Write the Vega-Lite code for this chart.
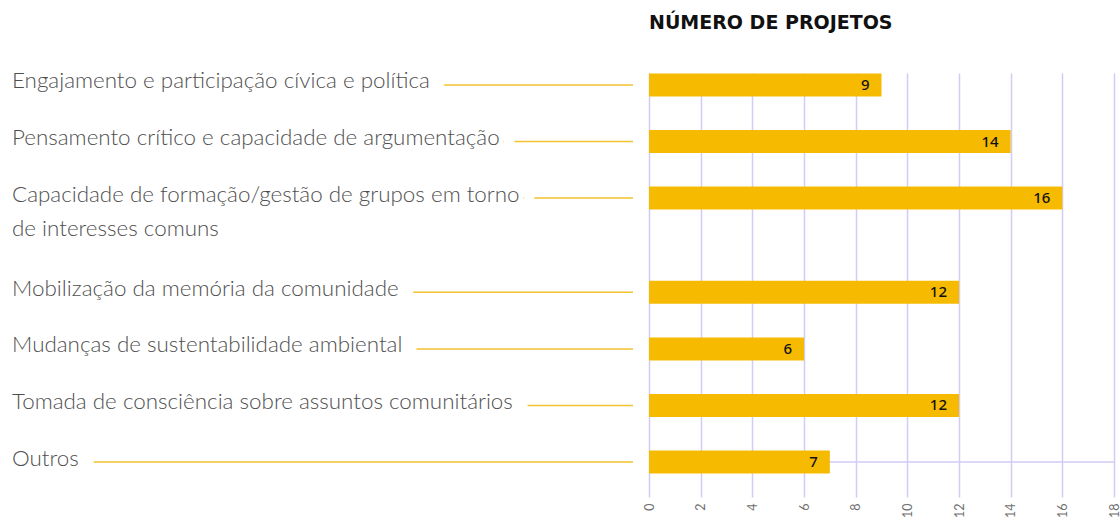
{
  "$schema": "https://vega.github.io/schema/vega-lite/v6.json",
  "autosize": {"type": "pad"},
  "padding": {"left": 0, "top": 14, "right": 0, "bottom": 0},
  "background": "white",
  "bounds": "flush",
  "spacing": 16,
  "config": {"view": {"stroke": null}, "font": "Lato"},
  "data": {"values": [
    {"tema": "Engajamento e participação cívica e política", "projetos": 9},
    {"tema": "Pensamento crítico e capacidade de argumentação", "projetos": 14},
    {"tema": "Capacidade de formação/gestão de grupos em torno\nde interesses comuns", "projetos": 16},
    {"tema": "Mobilização da memória da comunidade", "projetos": 12},
    {"tema": "Mudanças de sustentabilidade ambiental", "projetos": 6},
    {"tema": "Tomada de consciência sobre assuntos comunitários", "projetos": 12},
    {"tema": "Outros", "projetos": 7}
  ]},
  "hconcat": [
    {
      "width": 632,
      "height": 424,
      "layer": [
        {
          "mark": {"type": "rule", "color": "#f2c230", "strokeWidth": 1.5},
          "encoding": {
            "y": {"field": "tema", "type": "nominal", "axis": null, "scale": {"type": "point", "padding": 0.745, "align": 0.426, "domain": ["Engajamento e participação cívica e política", "s1", "s2", "Pensamento crítico e capacidade de argumentação", "s3", "s4", "Capacidade de formação/gestão de grupos em torno\nde interesses comuns", "s5", "s6", "s7", "s8", "Mobilização da memória da comunidade", "s9", "s10", "Mudanças de sustentabilidade ambiental", "s11", "s12", "Tomada de consciência sobre assuntos comunitários", "s13", "s14", "Outros", "s15"]}},
            "x": {"value": 0},
            "x2": {"value": "width"}
          }
        },
        {
          "mark": {"type": "text", "align": "left", "baseline": "alphabetic", "dx": 11, "dy": 3.5, "fontSize": 22.4, "fontWeight": 300, "lineBreak": "\n", "lineHeight": 34, "color": "white", "stroke": "white", "strokeWidth": 32, "strokeJoin": "round"},
          "encoding": {
            "y": {"field": "tema", "type": "nominal", "axis": null, "scale": {"type": "point", "padding": 0.745, "align": 0.426, "domain": ["Engajamento e participação cívica e política", "s1", "s2", "Pensamento crítico e capacidade de argumentação", "s3", "s4", "Capacidade de formação/gestão de grupos em torno\nde interesses comuns", "s5", "s6", "s7", "s8", "Mobilização da memória da comunidade", "s9", "s10", "Mudanças de sustentabilidade ambiental", "s11", "s12", "Tomada de consciência sobre assuntos comunitários", "s13", "s14", "Outros", "s15"]}},
            "x": {"value": 0},
            "text": {"field": "tema"}
          }
        },
        {
          "mark": {"type": "text", "align": "left", "baseline": "alphabetic", "dx": 11, "dy": 3.5, "fontSize": 22.4, "fontWeight": 300, "lineBreak": "\n", "lineHeight": 34, "color": "white", "stroke": "white", "strokeWidth": 10, "strokeJoin": "round"},
          "encoding": {
            "y": {"field": "tema", "type": "nominal", "axis": null, "scale": {"type": "point", "padding": 0.745, "align": 0.426, "domain": ["Engajamento e participação cívica e política", "s1", "s2", "Pensamento crítico e capacidade de argumentação", "s3", "s4", "Capacidade de formação/gestão de grupos em torno\nde interesses comuns", "s5", "s6", "s7", "s8", "Mobilização da memória da comunidade", "s9", "s10", "Mudanças de sustentabilidade ambiental", "s11", "s12", "Tomada de consciência sobre assuntos comunitários", "s13", "s14", "Outros", "s15"]}},
            "x": {"value": 0},
            "text": {"field": "tema"}
          }
        },
        {
          "mark": {"type": "text", "align": "left", "baseline": "alphabetic", "dx": 11, "dy": 3.5, "fontSize": 22.4, "fontWeight": 300, "lineBreak": "\n", "lineHeight": 34, "color": "#4f4f4f"},
          "encoding": {
            "y": {"field": "tema", "type": "nominal", "axis": null, "scale": {"type": "point", "padding": 0.745, "align": 0.426, "domain": ["Engajamento e participação cívica e política", "s1", "s2", "Pensamento crítico e capacidade de argumentação", "s3", "s4", "Capacidade de formação/gestão de grupos em torno\nde interesses comuns", "s5", "s6", "s7", "s8", "Mobilização da memória da comunidade", "s9", "s10", "Mudanças de sustentabilidade ambiental", "s11", "s12", "Tomada de consciência sobre assuntos comunitários", "s13", "s14", "Outros", "s15"]}},
            "x": {"value": 0},
            "text": {"field": "tema"}
          }
        }
      ]
    },
    {
      "width": 465,
      "height": 424,
      "title": {"text": "NÚMERO DE PROJETOS", "anchor": "start", "frame": "group", "font": "DejaVu Sans", "fontSize": 19, "fontWeight": "bold", "color": "#111111", "baseline": "alphabetic", "offset": 25},
      "layer": [
        {
          "transform": [{"filter": "datum.tema === 'Outros'"}],
          "mark": {"type": "rule", "color": "#d2cbf7", "strokeWidth": 1.5},
          "encoding": {
            "y": {"field": "tema", "type": "nominal", "axis": null, "scale": {"type": "point", "padding": 0.745, "align": 0.426, "domain": ["Engajamento e participação cívica e política", "s1", "s2", "Pensamento crítico e capacidade de argumentação", "s3", "s4", "Capacidade de formação/gestão de grupos em torno\nde interesses comuns", "s5", "s6", "s7", "s8", "Mobilização da memória da comunidade", "s9", "s10", "Mudanças de sustentabilidade ambiental", "s11", "s12", "Tomada de consciência sobre assuntos comunitários", "s13", "s14", "Outros", "s15"]}},
            "x": {"datum": 0, "type": "quantitative", "scale": {"domain": [0, 18], "nice": false}},
            "x2": {"datum": 18}
          }
        },
        {
          "mark": {"type": "bar", "color": "#f6bb00", "height": 23},
          "encoding": {
            "y": {"field": "tema", "type": "nominal", "axis": null, "scale": {"type": "point", "padding": 0.745, "align": 0.426, "domain": ["Engajamento e participação cívica e política", "s1", "s2", "Pensamento crítico e capacidade de argumentação", "s3", "s4", "Capacidade de formação/gestão de grupos em torno\nde interesses comuns", "s5", "s6", "s7", "s8", "Mobilização da memória da comunidade", "s9", "s10", "Mudanças de sustentabilidade ambiental", "s11", "s12", "Tomada de consciência sobre assuntos comunitários", "s13", "s14", "Outros", "s15"]}},
            "x": {"field": "projetos", "type": "quantitative", "scale": {"domain": [0, 18], "nice": false},
              "axis": {"values": [0, 2, 4, 6, 8, 10, 12, 14, 16, 18], "title": null, "labelAngle": -90, "labelFontSize": 12.5, "labelColor": "#6f6f6f", "labelFont": "Lato", "labelPadding": 6, "labelFlush": false, "labelOverlap": false, "labelBound": false, "ticks": false, "domain": false, "grid": true, "gridColor": "#d2cbf7", "gridWidth": 1.5}}
          }
        },
        {
          "mark": {"type": "text", "align": "right", "baseline": "middle", "dx": -12, "fontSize": 15, "font": "Noto Sans", "fontWeight": 500, "color": "#111111"},
          "encoding": {
            "y": {"field": "tema", "type": "nominal", "axis": null, "scale": {"type": "point", "padding": 0.745, "align": 0.426, "domain": ["Engajamento e participação cívica e política", "s1", "s2", "Pensamento crítico e capacidade de argumentação", "s3", "s4", "Capacidade de formação/gestão de grupos em torno\nde interesses comuns", "s5", "s6", "s7", "s8", "Mobilização da memória da comunidade", "s9", "s10", "Mudanças de sustentabilidade ambiental", "s11", "s12", "Tomada de consciência sobre assuntos comunitários", "s13", "s14", "Outros", "s15"]}},
            "x": {"field": "projetos", "type": "quantitative"},
            "text": {"field": "projetos"}
          }
        }
      ]
    }
  ]
}
